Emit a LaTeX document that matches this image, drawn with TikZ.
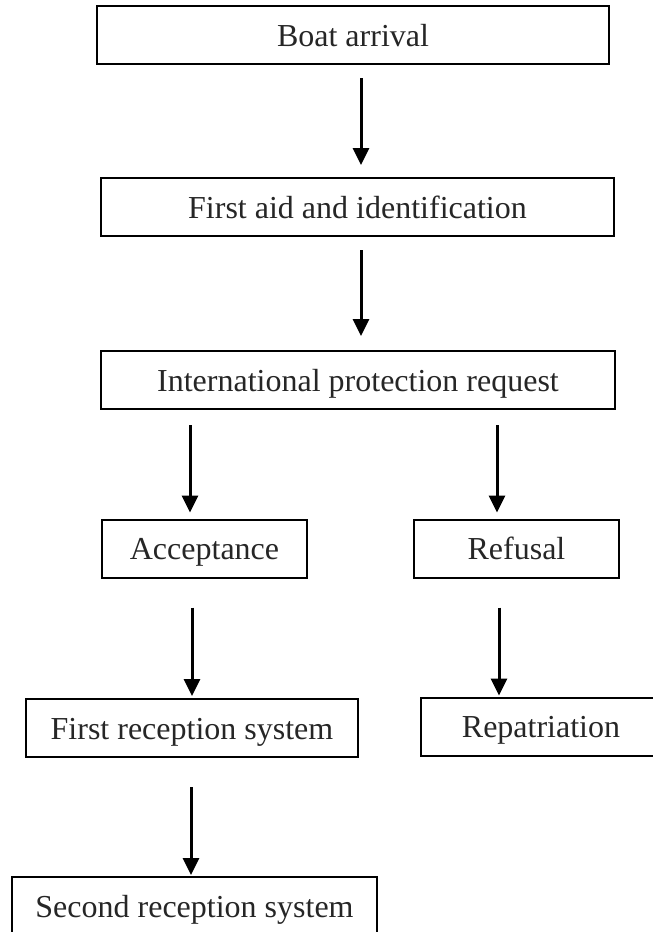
\documentclass[tikz,border=0pt]{standalone}
\usepackage{fontspec}
\setmainfont{Liberation Serif}
\usetikzlibrary{arrows.meta}

\begin{document}
\begin{tikzpicture}[
        % Environment Config
        x=1pt, y=-1pt,
        font=\fontsize{32}{38}\selectfont,
        StepBox/.style={% Style for the boxes
          draw,
          line width=2pt,
          inner sep=0pt,
          text height=30pt,
          text depth=8pt,
          minimum height=58pt,
          text=black!85
        },
        FlowArrow/.style={% Style for the arrows
          -{Triangle[length=17pt,width=16pt]},
          line width=3pt
        }
      ]

      % Fix the page size
      \useasboundingbox (0,0) rectangle (653,932);

      % Put the boxes in position
      \draw(353,35) node[StepBox,minimum width=512pt](Boat){Boat arrival};
      \draw(357.5,207) node[StepBox,minimum width=513pt](Aid){First aid and identification};
      \draw(358,380) node[StepBox,minimum width=514pt](Intl){International protection request};
      \draw(204.5,548.5) node[StepBox,minimum width=205pt](Acc){Acceptance};
      \draw(516.5,548.5) node[StepBox,minimum width=205pt](Ref){Refusal};
      \draw(192,728) node[StepBox,minimum width=332pt](First){First reception system};
      \draw(541,726.5) node[StepBox,minimum width=240pt](Rep){Repatriation};
      \draw(194.5,906) node[StepBox,minimum width=365pt](Second){Second reception system};

      % Draw the arrows
      %===Main line===
      \draw[FlowArrow, shorten <=13pt, shorten >=12pt]
      ([xshift=8pt]Boat.south)
          -- ([xshift=8pt]Boat.south |- Aid.north);
      \draw[FlowArrow, shorten <=13pt, shorten >=14pt]
      ([xshift=3.5pt]Aid.south)
          -- ([xshift=3.5pt]Aid.south |- Intl.north);

      %===Decision===
      \draw[FlowArrow, shorten <=15pt, shorten >=6pt]
      ([xshift=-168pt]Intl.south)
          -- ([xshift=-168pt]Intl.south |- Acc.north);
      \draw[FlowArrow, shorten <=15pt, shorten >=6pt]
      ([xshift=139pt]Intl.south)
          -- ([xshift=139pt]Intl.south |- Ref.north);

      %===Outcome===
      \draw[FlowArrow, shorten <=29pt, shorten >=2pt]
      ([xshift=-12.5pt]Acc.south)
          -- ([xshift=-12.5pt]Acc.south |- First.north);
      \draw[FlowArrow, shorten <=29pt, shorten >=1pt]
      ([xshift=-17.5pt]Ref.south)
          -- ([xshift=-17.5pt]Ref.south |- Rep.north);
      \draw[FlowArrow, shorten <=29pt, shorten >=1pt]
      ([xshift=-1pt]First.south)
          -- ([xshift=-1pt]First.south |- Second.north);

      \end{tikzpicture}
\end{document}
